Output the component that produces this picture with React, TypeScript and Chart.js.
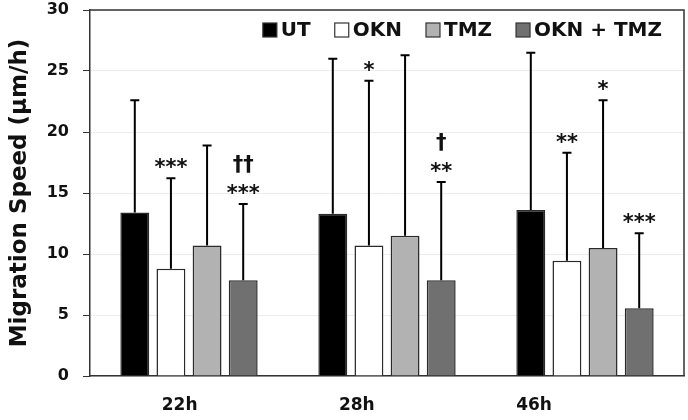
import React, { useEffect, useRef } from 'react';
import { Chart, registerables } from 'chart.js';
Chart.register(...registerables);

const categories = ['22h', '28h', '46h'];
const seriesNames = ['UT', 'OKN', 'TMZ', 'OKN + TMZ'];
const utMean = [13.4, 13.3, 13.6];
const utSD = [9.2, 12.7, 12.9];
const oknMean = [8.8, 10.7, 9.45];
const oknSD = [7.4, 13.5, 8.85];
const tmzMean = [10.7, 11.5, 10.5];
const tmzSD = [8.2, 14.8, 12.1];
const comboMean = [7.85, 7.85, 5.55];
const comboSD = [6.25, 8.05, 6.15];
const utSig = [[], [], []];
const oknSig = [['***'], ['*'], ['**']];
const tmzSig = [[], [], ['*']];
const comboSig = [['††', '***'], ['†', '**'], ['***']];
const yTicks = [0, 5, 10, 15, 20, 25, 30];

const FONT = '"DejaVu Sans", sans-serif';
const fills = ['#000000', '#ffffff', '#b2b2b2', '#707070'];
const means = [utMean, oknMean, tmzMean, comboMean];
const sds = [utSD, oknSD, tmzSD, comboSD];
const sigs = [utSig, oknSig, tmzSig, comboSig];

const overlay = {
  id: 'overlay',
  afterDatasetsDraw(chart: any) {
    const ctx = chart.ctx as CanvasRenderingContext2D;
    const ys = chart.scales.y;
    const xs = chart.scales.x;
    const { left, right, top, bottom } = chart.chartArea;
    ctx.save();
    ctx.strokeStyle = '#333';
    ctx.lineWidth = 1.5;
    ctx.beginPath();
    ctx.moveTo(left, top);
    ctx.lineTo(right, top);
    ctx.lineTo(right, bottom);
    ctx.stroke();

    chart.data.datasets.forEach((ds: any, i: number) => {
      const meta = chart.getDatasetMeta(i);
      meta.data.forEach((bar: any, j: number) => {
        const v = means[i][j];
        const yTop = ys.getPixelForValue(v + sds[i][j]);
        ctx.strokeStyle = '#000';
        ctx.lineWidth = 2;
        ctx.beginPath();
        ctx.moveTo(bar.x, bar.y);
        ctx.lineTo(bar.x, yTop);
        ctx.moveTo(bar.x - 4.5, yTop);
        ctx.lineTo(bar.x + 4.5, yTop);
        ctx.stroke();
        const lines: string[] = sigs[i][j];
        ctx.fillStyle = '#111';
        ctx.font = `bold 21px ${FONT}`;
        ctx.textAlign = 'center';
        ctx.textBaseline = 'alphabetic';
        for (let k = 0; k < lines.length; k++) {
          const line = lines[lines.length - 1 - k];
          ctx.fillText(line, bar.x, yTop - 4 - k * 29);
        }
      });
    });

    // x category labels
    ctx.fillStyle = '#111';
    ctx.font = `bold 17px ${FONT}`;
    ctx.textAlign = 'center';
    ctx.textBaseline = 'middle';
    chart.data.labels.forEach((lab: string, j: number) => {
      const px = xs.getPixelForValue(j);
      ctx.fillText(lab, left + (px - left) * 0.895 + 1, 406);
    });

    // legend
    ctx.font = `bold 20px ${FONT}`;
    ctx.textBaseline = 'middle';
    ctx.textAlign = 'left';
    const box = 14, gap = 4, itemGap = 24;
    let x = 662;
    const yC = 30;
    const items = chart.data.datasets.map((d: any) => d.label);
    const pos: number[] = [];
    for (let i = items.length - 1; i >= 0; i--) {
      const w = ctx.measureText(items[i]).width;
      x -= w;
      pos[i] = x;
      x -= gap + box + itemGap;
    }
    items.forEach((lab: string, i: number) => {
      const tx = pos[i];
      const bx = tx - gap - box;
      ctx.fillStyle = fills[i];
      ctx.fillRect(bx, yC - box / 2, box, box);
      ctx.strokeStyle = '#333';
      ctx.lineWidth = 1.2;
      ctx.strokeRect(bx, yC - box / 2, box, box);
      ctx.fillStyle = '#111';
      ctx.fillText(lab, tx, yC + 1);
    });
    ctx.restore();
  },
};

export default function App() {
  const ref = useRef<HTMLCanvasElement>(null);
  useEffect(() => {
    if (!ref.current) return;
    const chart = new Chart(ref.current, {
      type: 'bar',
      data: {
        labels: categories,
        datasets: seriesNames.map((name, i) => ({
          label: name,
          data: means[i],
          backgroundColor: fills[i],
          borderColor: '#2a2a2a',
          borderWidth: 1.5,
          categoryPercentage: 0.73,
          barPercentage: 0.8,
        })),
      },
      options: {
        responsive: false,
        animation: false,
        layout: { padding: { top: 10, right: 4, left: 0, bottom: 0 } },
        plugins: { legend: { display: false }, tooltip: { enabled: false } },
        scales: {
          x: {
            grid: { display: false },
            border: { display: true, color: '#333', width: 1.5 },
            ticks: { display: false },
            afterFit: (s: any) => { s.height = 44; s.paddingLeft = 0; s.paddingRight = 0; },
          },
          y: {
            min: 0,
            max: 30,
            afterBuildTicks: (s: any) => { s.ticks = yTicks.map((v) => ({ value: v })); },
            ticks: { font: { family: FONT, size: 16, weight: 'bold' }, color: '#111', padding: 14 },
            grid: { color: '#ececec', tickColor: '#333', tickLength: 7, lineWidth: 1 },
            border: { display: true, color: '#333', width: 1.5 },
            title: {
              display: true,
              text: 'Migration Speed (µm/h)',
              font: { family: FONT, size: 23, weight: 'bold' },
              color: '#111',
              padding: { top: 6, bottom: 0 },
            },
            afterFit: (s: any) => { s.width = 90; s.paddingTop = 0; s.paddingBottom = 0; },
          },
        },
      },
      plugins: [overlay],
    });
    return () => chart.destroy();
  }, []);
  return (
    <div style={{ position: 'absolute', left: 0, top: 0, width: 688, height: 420, background: '#fff' }}>
      <canvas ref={ref} width={688} height={420} />
    </div>
  );
}
